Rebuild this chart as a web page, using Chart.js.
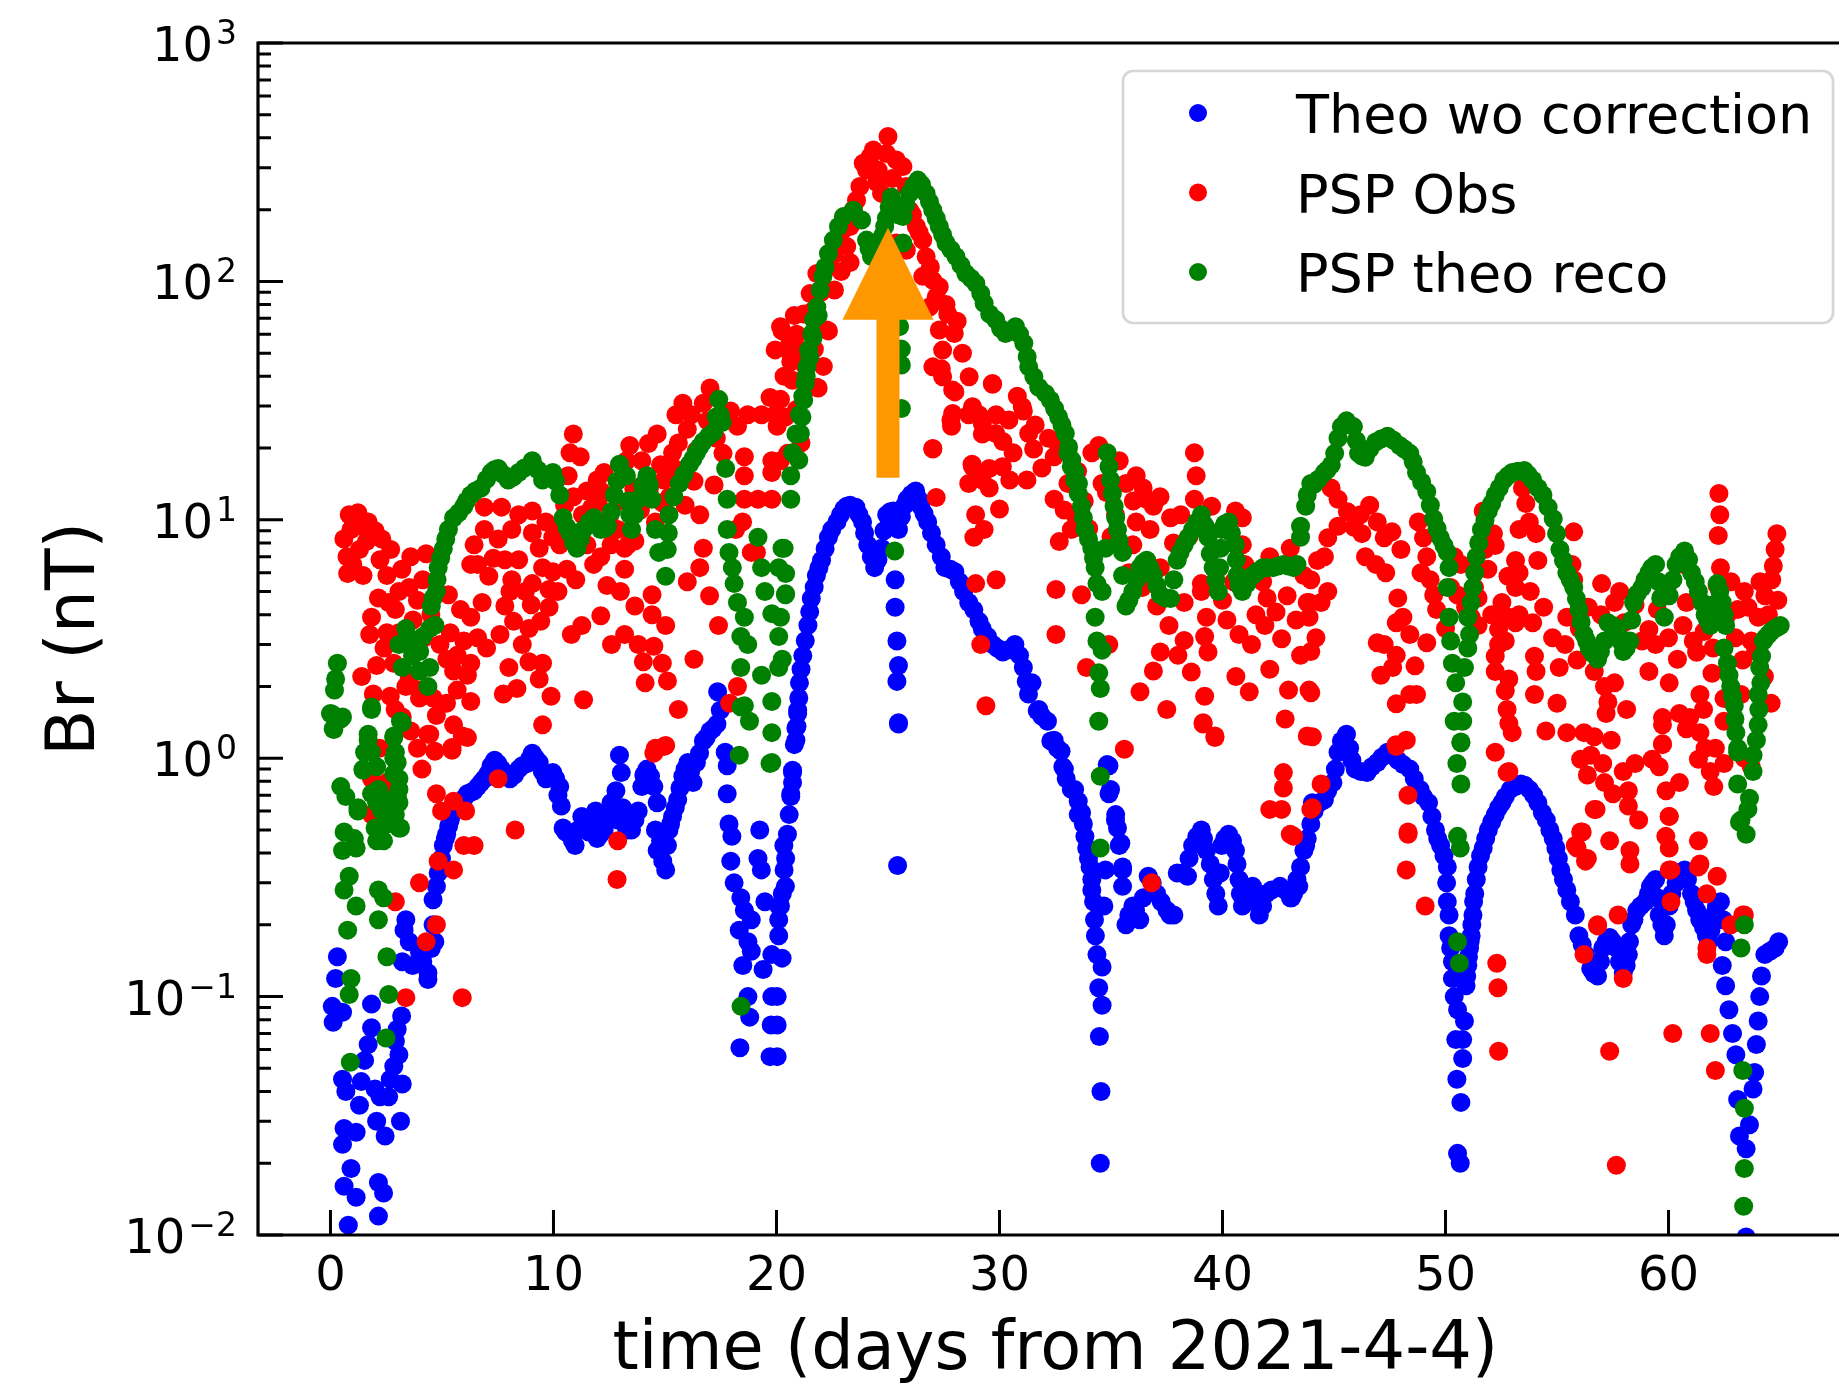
<!DOCTYPE html>
<html>
<head>
<meta charset="utf-8">
<title>Br (nT)</title>
<script src="https://cdn.jsdelivr.net/npm/chart.js@4.4.1/dist/chart.umd.min.js"></script>
<style>
html, body { margin: 0; padding: 0; background: #fff; overflow: hidden; }
#frameBox { width: 1839px; height: 1383px; overflow: hidden; }
</style>
</head>
<body>
<!-- the axes run a little past the right edge of the window, as in the original figure -->
<div id="frameBox"><canvas id="brChart" width="1862" height="1383"></canvas></div>
<script>
// axis ticks
const dayTicks = [0, 10, 20, 30, 40, 50, 60];
const brDecades = [0.01, 0.1, 1, 10, 100, 1000];
const brExponents = ['\u22122', '\u22121', '0', '1', '2', '3'];

const seriesLabels = ['Theo wo correction', 'PSP Obs', 'PSP theo reco'];
const seriesColors = ['#0000ff', '#ff0000', '#008000'];

// orange arrow (day, Br from / head base / tip)
const arrowDay = 25;
const arrowFrom = 15;
const arrowHead = 69;
const arrowTo = 168;

// [day, Br nT]
const theoWoCorrection = [
  [0.08,0.091],[0.12,0.078],[0.23,0.119],[0.31,0.147],[0.54,0.086],[0.54,0.045],[0.54,0.024],[0.61,0.028],[0.61,0.016],[0.69,0.040],
  [0.8,0.011],[0.92,0.019],[1.15,0.027],[1.15,0.0144],[1.3,0.035],[1.38,0.044],[1.53,0.054],[1.69,0.063],[1.84,0.093],[1.84,0.074],
  [2.0,0.041],[2.07,0.030],[2.15,0.0166],[2.15,0.012],[2.22,0.038],[2.38,0.015],[2.45,0.026],[2.61,0.038],[2.68,0.045],[2.84,0.051],
  [2.91,0.065],[2.99,0.073],[3.07,0.057],[3.14,0.030],[3.19,0.083],[3.22,0.043],[3.22,0.14],[3.3,0.19],[3.38,0.21],[3.53,0.17],
  [3.68,0.135],[3.99,0.154],[4.14,0.14],[4.37,0.118],[4.37,0.126],[4.52,0.159],[4.6,0.20],[4.68,0.17],[4.6,0.255],[4.75,0.29],
  [4.83,0.33],[4.9,0.36],[4.98,0.38],[5.06,0.43],[5.15,0.46],[5.21,0.48],[5.3,0.52],[5.37,0.55],[5.45,0.58],[5.52,0.60],
  [5.68,0.63],[5.83,0.65],[6.0,0.68],[6.14,0.71],[6.3,0.72],[6.44,0.73],[6.6,0.76],[6.75,0.79],[6.9,0.82],[7.06,0.86],
  [7.2,0.93],[7.36,0.98],[7.5,0.95],[7.67,0.90],[7.85,0.86],[8.05,0.82],[8.25,0.85],[8.44,0.90],[8.6,0.93],[8.82,0.95],
  [8.95,1.0],[9.05,1.05],[9.2,1.0],[9.36,0.96],[9.5,0.88],[9.66,0.82],[9.8,0.84],[9.97,0.87],[10.1,0.82],[10.2,0.70],
  [10.28,0.76],[10.35,0.63],[10.43,0.51],[10.55,0.49],[10.74,0.48],[10.85,0.45],[10.97,0.43],[11.1,0.50],[11.27,0.57],[11.4,0.53],
  [11.58,0.49],[11.75,0.55],[11.89,0.60],[11.96,0.46],[12.1,0.48],[12.27,0.50],[12.4,0.58],[12.58,0.65],[12.7,0.62],[12.8,0.73],
  [12.88,0.55],[12.96,1.03],[13.04,0.87],[13.1,0.62],[13.19,0.53],[13.3,0.50],[13.5,0.50],[13.65,0.55],[13.8,0.60],[13.96,0.76],
  [14.05,0.85],[14.19,0.90],[14.35,0.84],[14.5,0.76],[14.65,0.65],[14.57,0.50],[14.65,0.41],[14.8,0.45],[14.9,0.37],[15.03,0.34],
  [15.11,0.43],[15.18,0.50],[15.25,0.53],[15.34,0.57],[15.46,0.62],[15.57,0.67],[15.67,0.75],[15.8,0.84],[15.9,0.90],[16.03,0.96],
  [16.15,0.88],[16.26,0.79],[16.41,0.96],[16.55,1.05],[16.72,1.18],[16.85,1.22],[17.02,1.30],[17.15,1.33],[17.33,1.39],[17.36,1.9],
  [17.48,1.59],[17.7,1.06],[17.79,0.93],[17.79,0.71],[17.87,0.53],[18.0,0.47],[17.95,0.37],[18.1,0.30],[18.4,0.26],[18.56,0.23],
  [18.87,0.21],[18.33,0.19],[18.72,0.17],[18.49,0.135],[18.87,0.155],[19.4,0.13],[19.79,0.15],[20.1,0.18],[20.25,0.145],[19.25,0.50],
  [19.17,0.38],[19.32,0.34],[19.48,0.25],[20.1,0.24],[20.4,0.29],[20.33,0.43],[18.72,0.10],[18.8,0.082],[18.36,0.061],[19.79,0.10],
  [19.76,0.076],[19.71,0.056],[20.34,0.34],[20.18,0.24],[20.1,0.21],[20.26,0.27],[20.03,0.10],[20.03,0.076],[20.03,0.056],[20.41,0.38],
  [20.49,0.48],[20.57,0.58],[20.64,0.69],[20.72,0.79],[20.72,0.87],[20.8,1.14],[20.87,1.34],[20.95,1.59],[20.64,0.71],[20.72,0.89],
  [20.87,1.19],[20.92,1.36],[20.95,1.54],[21.0,1.79],[21.03,2.07],[21.1,2.36],[21.18,2.69],[21.29,3.11],[21.41,3.61],[21.49,4.11],
  [21.56,4.68],[21.69,5.22],[21.79,5.84],[21.9,6.28],[22.02,6.77],[22.18,7.56],[22.33,8.45],[22.48,9.1],[22.71,9.8],[22.87,10.5],
  [23.02,11.1],[23.15,11.4],[23.3,11.5],[23.56,11.3],[23.7,10.5],[23.86,9.8],[23.95,8.8],[24.09,7.85],[24.25,7.0],[24.4,6.3],
  [24.55,6.8],[24.71,7.6],[24.82,9.0],[24.94,10.5],[25.1,10.8],[25.24,10.9],[25.35,10.0],[25.47,9.1],[25.6,10.3],[25.75,11.5],
  [25.86,12.2],[26.05,12.8],[26.24,13.2],[26.35,12.3],[26.47,11.4],[26.62,10.6],[26.78,9.8],[26.95,8.8],[27.16,7.85],[27.39,7.0],
  [27.55,6.3],[27.8,6.2],[28.0,6.05],[28.2,5.5],[28.39,5.0],[28.62,4.5],[28.85,4.19],[29.08,3.75],[29.23,3.48],[29.46,3.24],
  [29.7,3.0],[29.9,2.9],[30.15,2.79],[30.4,2.85],[30.69,3.0],[30.9,2.7],[31.07,2.4],[31.2,2.1],[31.3,1.86],[31.46,2.07],
  [31.69,1.58],[31.76,1.6],[31.9,1.5],[32.15,1.43],[32.3,1.18],[32.45,1.19],[32.6,1.1],[32.76,1.07],[32.84,0.92],[32.91,0.90],
  [32.99,0.82],[33.22,0.74],[33.37,0.74],[33.53,0.66],[33.53,0.58],[33.68,0.59],[33.76,0.53],[33.83,0.47],[33.91,0.42],[33.99,0.38],
  [34.06,0.35],[34.14,0.31],[34.14,0.28],[34.22,0.25],[34.26,0.21],[34.3,0.18],[34.37,0.15],[34.6,0.133],[34.45,0.109],[34.6,0.092],
  [34.48,0.068],[34.55,0.040],[34.52,0.020],[34.68,0.24],[34.75,0.34],[34.83,0.94],[34.91,0.71],[34.91,0.93],[34.98,0.74],[35.2,0.55],
  [35.21,0.58],[35.29,0.51],[35.37,0.43],[35.44,0.44],[35.52,0.35],[35.52,0.34],[35.52,0.29],[35.67,0.20],[35.8,0.22],[35.98,0.24],
  [36.1,0.23],[36.29,0.21],[36.45,0.26],[36.67,0.32],[36.85,0.30],[37.05,0.27],[37.25,0.25],[37.51,0.23],[37.65,0.22],[37.82,0.22],
  [37.97,0.33],[38.2,0.33],[38.43,0.32],[38.5,0.38],[38.66,0.43],[38.85,0.47],[39.05,0.50],[39.15,0.46],[39.28,0.41],[39.45,0.36],
  [39.59,0.31],[39.7,0.27],[39.81,0.24],[39.9,0.33],[39.97,0.43],[40.1,0.46],[40.27,0.48],[40.45,0.45],[40.58,0.41],[40.65,0.36],
  [40.74,0.31],[40.8,0.27],[40.89,0.24],[41.1,0.26],[41.35,0.29],[41.5,0.25],[41.65,0.22],[41.8,0.24],[41.96,0.27],[42.2,0.28],
  [42.58,0.29],[42.8,0.28],[43.04,0.26],[43.1,0.26],[43.19,0.27],[43.34,0.31],[43.42,0.29],[43.5,0.35],[43.65,0.41],[43.73,0.43],
  [43.8,0.46],[43.96,0.53],[44.03,0.65],[44.11,0.60],[44.34,0.65],[44.57,0.67],[44.72,0.73],[44.95,0.79],[45.06,0.90],[45.18,1.06],
  [45.33,1.18],[45.56,1.26],[45.7,1.1],[45.8,0.98],[45.95,0.90],[46.2,0.88],[46.48,0.87],[46.7,0.92],[46.94,0.96],[47.15,1.01],
  [47.4,1.06],[47.6,1.03],[47.86,0.98],[48.1,0.94],[48.4,0.90],[48.6,0.82],[48.86,0.74],[49.01,0.69],[49.24,0.65],[49.39,0.57],
  [49.55,0.50],[49.65,0.46],[49.78,0.43],[49.93,0.39],[50.08,0.35],[50.05,0.30],[50.08,0.25],[50.16,0.22],[50.16,0.18],[50.23,0.16],
  [50.31,0.14],[50.31,0.119],[50.39,0.100],[50.54,0.088],[50.85,0.079],[50.46,0.066],[50.77,0.066],[50.77,0.055],[50.51,0.045],[50.69,0.036],
  [50.54,0.022],[50.66,0.020],[50.92,0.111],[50.95,0.122],[51.0,0.135],[51.03,0.147],[51.08,0.16],[51.11,0.171],[51.15,0.18],[51.18,0.20],
  [51.23,0.22],[51.26,0.25],[51.31,0.27],[51.38,0.31],[51.46,0.35],[51.57,0.39],[51.69,0.42],[51.8,0.46],[51.92,0.50],[52.07,0.54],
  [52.23,0.58],[52.38,0.62],[52.53,0.65],[52.68,0.69],[52.91,0.74],[53.14,0.76],[53.37,0.78],[53.55,0.77],[53.76,0.74],[53.95,0.70],
  [54.14,0.65],[54.34,0.59],[54.52,0.55],[54.68,0.50],[54.83,0.46],[54.95,0.42],[55.06,0.38],[55.17,0.34],[55.29,0.31],[55.44,0.28],
  [55.6,0.25],[55.82,0.22],[55.98,0.18],[56.13,0.165],[56.28,0.15],[56.51,0.131],[56.65,0.125],[56.82,0.122],[56.95,0.14],[57.05,0.16],
  [57.2,0.17],[57.36,0.177],[57.5,0.17],[57.66,0.16],[57.8,0.14],[57.97,0.126],[58.1,0.135],[58.2,0.15],[58.25,0.17],[58.35,0.20],
  [58.45,0.21],[58.58,0.23],[58.75,0.24],[58.96,0.25],[59.1,0.27],[59.19,0.29],[59.3,0.30],[59.42,0.31],[59.5,0.26],[59.58,0.22],
  [59.7,0.20],[59.81,0.18],[59.9,0.20],[60.03,0.24],[60.15,0.27],[60.34,0.30],[60.5,0.32],[60.72,0.34],[60.85,0.31],[61.03,0.27],
  [61.15,0.25],[61.26,0.23],[61.4,0.21],[61.57,0.195],[61.7,0.18],[61.8,0.17],[61.9,0.19],[62.03,0.22],[62.15,0.24],[62.33,0.25],
  [62.45,0.21],[62.56,0.17],[62.41,0.135],[62.56,0.111],[62.71,0.088],[62.87,0.070],[63.02,0.057],[63.1,0.037],[63.18,0.026],[63.48,0.023],
  [63.48,0.0098],[63.63,0.029],[63.79,0.041],[63.86,0.048],[63.94,0.063],[64.02,0.079],[64.09,0.100],[64.17,0.122],[64.32,0.15],[64.55,0.155],
  [64.78,0.16],[64.94,0.17],
  [25.32,5.6],[25.32,4.3],[25.4,3.1],[25.47,2.45],[25.4,2.1],[25.47,1.41],[25.47,1.39],[25.43,0.355]
];

const pspObs = [
  [0.84,10.5],[1.23,10.7],[0.92,9.1],[1.38,9.4],[1.69,9.8],[1.61,8.1],[0.74,7.0],[0.77,5.95],[1.46,5.84],[2.3,8.3],
  [2.22,6.8],[2.53,5.84],[3.6,7.0],[4.29,7.2],[4.14,5.6],[3.07,5.0],[3.53,5.2],[2.15,4.7],[1.84,3.9],[1.76,3.3],
  [2.61,4.5],[2.53,3.36],[2.91,4.2],[2.07,2.45],[2.84,2.5],[1.92,1.86],[2.68,1.82],[3.38,2.0],[3.99,1.79],[4.6,1.79],
  [3.22,1.49],[4.37,1.26],[4.75,1.51],[5.52,1.38],[5.91,1.24],[4.68,1.07],[5.45,1.11],[5.29,4.85],[5.83,4.2],[6.29,3.9],
  [5.37,3.36],[5.98,3.1],[5.68,2.7],[6.29,2.5],[5.52,2.32],[6.14,2.23],[5.68,1.93],[6.29,1.73],[4.91,3.0],[5.22,2.6],
  [3.07,3.36],[3.53,2.15],[4.06,1.93],[6.44,7.85],[6.29,6.5],[6.6,6.5],[7.52,8.3],[7.82,6.8],[8.44,6.8],[8.13,5.6],
  [8.05,5.0],[7.82,4.35],[8.21,3.75],[8.9,3.5],[9.43,3.75],[8.74,5.0],[9.05,5.4],[9.51,6.3],[9.97,6.05],[9.36,7.6],
  [9.05,10.9],[8.44,10.5],[7.67,11.3],[6.9,11.3],[6.9,9.1],[8.13,9.1],[9.05,8.8],[9.97,8.45],[8.9,2.54],[9.51,2.5],
  [9.36,2.15],[7.75,1.86],[8.36,1.96],[9.89,1.82],[9.51,1.38],[11.27,3.6],[12.12,3.96],[11.35,1.76],[13.19,3.3],[13.65,4.35],
  [14.42,4.0],[15.03,3.6],[14.42,4.85],[14.5,2.95],[14.03,2.54],[14.88,2.5],[14.11,2.07],[15.11,2.11],[13.19,6.2],[14.57,1.1],
  [15.03,1.13],[18.25,2.0],[16.56,10.5],[16.72,7.6],[16.56,6.3],[18.17,9.1],[18.48,9.8],[19.1,7.3],
  [0.6,8.3],[1.0,6.5],[1.3,7.5],[2.0,9.0],[2.7,7.5],[3.2,6.2],[3.9,4.6],[4.5,4.0],[4.2,3.2],[3.7,3.8],
  [2.4,2.9],[1.4,2.2],[2.9,1.6],[3.6,1.3],[3.9,1.1],[4.1,0.9],[2.2,1.1],[5.2,1.7],[6.6,3.2],[6.8,4.5],
  [7.1,5.8],[7.3,6.9],[7.0,2.9],[7.6,3.3],[8.0,2.4],[8.6,3.0],[9.0,4.4],[9.8,5.1],
  [10.89,22.9],[10.74,19.1],[11.2,18.4],[10.66,15.3],[11.5,13.2],[11.96,14.7],[12.27,15.8],[12.12,13.2],[13.42,20.5],[13.96,17.7],
  [13.27,17.7],[14.26,20.9],[14.65,22.9],[15.34,19.1],[14.95,14.7],[14.88,11.8],[15.8,30.8],[15.49,27.6],[16.18,27.6],[17.02,35.7],
  [16.72,30.8],[17.94,28.6],[18.71,27.6],[19.33,27.6],[19.94,27.6],[20.25,62],[19.94,51.6],[20.71,38.5],[19.71,32.6],[18.25,24.7],
  [18.56,18.4],[18.56,15.3],[19.79,17.7],[19.79,15.8],[18.56,12.2],[19.17,12.2],[19.79,12.2],[18.87,7.3],[13.34,7.85],[13.65,8.15],
  [12.58,7.85],[12.12,7.0],[12.88,9.1],[13.19,7.6],[11.5,7.85],[10.28,7.85],[10.12,9.4],[9.66,9.8],[14.57,9.8],[15.42,16.4],
  [10.5,11.5],[10.9,12.5],[11.3,10.5],[11.7,11.2],[12.0,11.8],[12.5,10.2],[12.9,12.0],[13.6,13.5],[13.9,11.0],[14.3,13.5],
  [14.8,17.0],[15.2,12.5],[15.6,21],[16.0,24],[16.4,19.5],[16.9,26],[17.3,22],[17.6,19],[17.2,14],[16.3,14.5],
  [15.9,11.5],[11.0,5.6],[11.8,6.5],[12.4,5.3],[13.0,5.0],[10.6,6.2],[10.2,5.0],[9.8,4.3],[10.8,3.3],[12.6,3.0],
  [13.8,3.0],[16.0,5.5],[17.0,4.8],[17.4,3.6],[16.3,2.6],[15.6,1.6],[17.9,1.7],
  [1.84,0.82],[2.91,0.25],[3.38,0.099],[3.99,0.30],[4.29,0.17],[4.75,0.20],[4.83,0.37],[5.52,0.34],[5.91,0.099],[4.75,0.71],
  [5.52,0.66],[4.98,0.60],[6.06,0.60],[5.98,0.43],[6.44,0.43],[7.52,0.82],[8.28,0.50],[12.88,0.45],[12.85,0.31],[14.5,1.05],
  [14.95,1.12],[4.45,1.26],[5.45,1.08],[6.14,1.22],[2.53,0.79],[1.84,0.58],[2.46,0.62],
  [25.0,405],[24.93,344],[24.19,333],[24.04,293],[24.56,293],[25.67,303],[23.74,250],[24.71,234],[23.59,219],[25.82,250],
  [25.97,199],[26.27,170],[26.56,149],[26.71,127],[26.56,105],[27.01,101],[27.16,86],[26.86,78],[27.68,73],[27.3,62.5],
  [27.97,60.5],[27.45,51.5],[28.34,50],[27.01,43.8],[27.45,39.8],[27.9,35],[28.64,39.8],[29.68,37.3],[27.9,27.9],[28.79,29.8],
  [29.23,25.3],[29.83,23],[30.42,26.2],[31.02,29.8],[31.31,23],[28.79,16.7],[29.23,14.7],[30.13,16.7],[27.01,19.9],[27.82,26.2],
  [32.65,20.2],[23.15,140],[22.33,115],[21.81,108],[21.51,89],[22.26,62.5],[21.81,36],[21.22,73],[21.07,51.5],[23.3,170],
  [23.89,313],[24.34,356],[25.37,323],[25.37,145],[25.82,135],[23.45,200],[22.9,160],[22.6,130],[24.5,260],[25.2,270],
  [26.1,190],[26.4,160],[26.9,115],[27.3,95],[27.6,80],[28.1,68],[22.0,90],[21.6,75],[20.9,60],[20.6,55],
  [20.4,27],[20.9,29],[21.3,44],[21.7,52],[22.1,44],[22.6,92],[22.9,110],[23.3,120],[20.5,19],[21.1,21],
  [20.18,64.6],[20.49,51.6],[20.8,72],[20.34,40],[20.64,46],[20.18,32],[20.03,24.7],[21.87,35.7],[22.33,62],[20.18,17.7],
  [27.01,19.8],[27.16,12.4],[27.39,43],[27.85,24.7],[28.0,34.4],[28.62,27.6],[29.08,27.6],[29.23,22.9],[29.69,37],[29.85,27.6],
  [30.15,21.3],[30.61,19.1],[31.07,28.6],[31.53,19.8],[28.77,17.1],[29.54,16.4],[28.62,14.2],[29.54,13.6],[30.46,14.7],[31.23,14.7],
  [28.93,10.5],[29.31,9.1],[28.85,8.45],[30.0,11.1],[28.93,5.4],[29.85,5.6],[29.16,3.0],[29.39,1.66],[32.53,5.1],[32.53,3.3],
  [32.68,8.1],[33.68,4.85],[32.45,12.2],[32.45,18.4],[33.07,14.2],[33.37,10.5],[33.22,9.1],[34.14,19.1],[34.45,20.5],[34.6,14.2],
  [35.37,17.7],[35.67,14.2],[36.13,15.3],[36.44,13.6],[36.59,12.2],[36.13,9.8],[36.75,9.1],[36.9,11.4],[37.67,10.2],[38.13,10.5],
  [38.74,19.1],[38.82,15.3],[38.74,12.2],[39.51,11.4],[40.58,10.9],[40.89,7.85],[42.12,7.0],[43.04,7.6],[43.65,5.84],[43.88,4.5],
  [35.98,7.85],[37.21,6.3],[39.05,5.4],[38.28,4.5],[39.05,5.0],[37.05,4.35],[39.28,3.9],[39.35,2.79],[39.2,3.24],[38.28,3.12],
  [37.21,2.79],[36.9,2.32],[40.74,3.3],[40.89,10.2],[42.65,3.17],[42.12,2.36],[42.96,1.93],[42.81,1.46],[43.88,1.93],[43.8,1.24],
  [39.2,1.82],[39.13,1.41],[39.66,1.24],[42.73,0.87],[42.73,0.75],[42.12,0.61],[42.65,0.61],[43.04,0.48],[35.6,1.09],[36.82,0.30],
  [39.13,1.39],[39.66,1.22],[43.96,0.61],[30.8,33],[31.6,25],[32.2,22],[33.5,16],[33.8,12],[34.8,13],[35.2,10.5],
  [36.0,12],[37.2,12.5],[37.8,8],[38.5,8.5],[41.0,6.5],[41.5,4.0],[42.0,4.7],[40.2,3.8],[41.8,5.5],
  [31.9,16.5],[32.9,11.0],[34.0,9.2],[35.0,8.5],[35.8,6.0],[36.4,5.2],[37.6,3.6],[38.0,2.7],[38.6,2.3],[40.0,4.6],
  [40.5,5.5],[41.3,3.0],[41.9,3.6],[42.4,4.1],[42.9,4.8],[43.3,3.8],[43.5,2.7],[41.2,1.9],[40.6,2.2],[37.5,1.6],
  [36.3,1.9],[34.9,3.0],[33.9,2.4],
  [44.87,13.6],[45.18,12.2],[46.18,10.5],[46.94,9.8],[45.18,9.4],[46.25,8.75],[47.25,8.4],[44.72,8.4],[46.41,7.0],[46.87,6.5],
  [47.32,6.0],[44.57,7.0],[44.26,6.75],[43.96,5.6],[44.72,5.0],[43.8,4.5],[44.42,4.5],[43.88,3.9],[44.19,3.2],[43.96,2.8],
  [43.96,1.88],[44.03,1.23],[47.86,4.7],[47.79,3.7],[48.09,3.9],[48.4,3.3],[46.94,3.05],[47.25,3.0],[47.79,2.7],[47.63,2.4],
  [47.1,2.23],[48.63,2.44],[49.16,3.05],[47.79,1.69],[48.4,1.85],[48.7,1.85],[47.79,1.12],[48.24,1.19],[48.32,0.70],[48.32,0.48],
  [48.24,0.34],[49.09,0.24],[48.78,9.8],[49.01,8.4],[49.16,7.0],[49.31,5.6],[49.47,4.84],[50.39,7.0],[50.69,6.5],[50.23,5.2],
  [50.54,4.84],[51.3,5.2],[51.46,4.7],[51.15,3.9],[51.46,3.6],[51.69,10.9],[52.15,8.75],[52.23,7.8],[51.77,7.5],[52.53,4.5],
  [52.38,4.0],[52.84,3.9],[52.07,4.0],[52.38,3.47],[53.14,3.7],[53.3,4.0],[52.68,3.1],[52.38,3.0],[52.23,2.68],[52.23,2.31],
  [52.84,2.15],[52.68,1.92],[52.76,1.6],[52.84,1.4],[52.99,1.28],[52.23,1.06],[52.84,0.88],[53.45,13.6],[53.6,11.7],[53.3,9.1],
  [53.14,6.75],[53.3,6.0],[53.14,5.2],[53.76,9.8],[54.06,8.75],[54.14,6.75],[53.91,3.7],[53.99,2.68],[54.06,2.31],[53.99,1.85],
  [51.77,10.9],[55.75,8.9],[55.67,6.5],[55.75,5.6],[55.44,3.9],[55.36,3.0],[55.9,2.58],[56.67,2.31],[56.97,4.0],[57.58,4.5],
  [57.81,5.0],[57.13,2.0],[57.28,1.72],[57.2,1.54],[58.12,1.6],[57.58,2.07],[55.44,1.28],[56.21,1.28],[56.67,1.23],[57.43,1.19],
  [56.06,0.99],[56.51,1.03],[57.05,0.95],[56.36,0.85],[57.13,0.79],[57.51,0.71],[56.75,0.61],[57.97,0.88],[58.5,0.95],[58.2,0.73],
  [58.2,0.63],[58.66,0.55],[56.06,0.49],[55.9,0.42],[56.36,0.38],[57.36,0.45],[58.27,0.41],[58.27,0.36],[56.82,0.20],[57.74,0.22],
  [59.27,0.99],[59.73,1.15],[59.58,0.92],[59.89,0.73],[60.49,0.79],[60.03,0.57],[59.88,0.47],[60.03,0.42],[60.03,0.34],[61.34,0.45],
  [61.41,0.36],[62.18,0.32],[61.72,0.27],[60.11,0.25],[59.73,1.38],[59.73,1.48],[60.49,1.54],[60.03,2.07],[59.42,3.0],[59.12,2.31],
  [59.12,3.47],[58.81,3.1],[58.96,5.6],[60.65,6.5],[60.8,4.5],[60.65,3.6],[61.11,3.1],[61.26,2.78],[61.41,1.85],[61.57,1.6],
  [60.95,1.48],[60.8,1.33],[61.41,1.28],[61.95,2.27],[62.26,12.9],[62.3,10.5],[62.23,8.6],[62.33,6.3],[62.18,5.3],[62.64,4.0],
  [63.1,4.2],[63.56,4.3],[64.02,3.9],[64.48,4.0],[64.32,4.8],[64.63,5.6],[64.7,6.4],[64.78,7.5],[64.86,8.75],[62.49,1.78],
  [63.25,1.85],[63.33,2.58],[63.71,3.1],[62.49,1.43],[61.64,1.10],[62.1,1.10],[61.87,0.88],[62.49,0.95],[62.03,0.76],[61.34,0.99],
  [62.79,0.20],[63.4,0.22],[61.72,0.16],[63.4,1.0],[63.71,0.92],[44.42,0.78],[44.03,0.62],[43.19,0.47],[47.78,1.14],[48.32,0.49],
  [52.3,0.138],[52.35,0.109],[52.38,0.059],[52.76,0.87],[56.21,0.15],[56.82,0.198],[57.97,0.119],[57.36,0.059],[57.66,0.0196],[60.11,0.34],
  [60.19,0.070],[61.34,0.35],[61.72,0.15],[61.87,0.070],[62.1,0.049],[63.33,0.22],[59.73,1.14],[56.13,0.49],[55.82,0.43],[56.28,0.37],
  [56.67,0.61],[60.03,0.57],
  [45.6,10.8],[45.9,9.3],[46.6,11.5],[47.6,8.9],[48.0,7.5],[48.9,6.0],[49.6,4.2],[50.0,3.5],[50.9,4.3],[51.9,6.2],
  [52.8,5.8],[53.8,5.0],[54.4,4.3],[54.8,3.2],[55.1,2.4],[55.0,1.7],[54.5,1.3],[56.0,3.5],[56.4,4.3],[57.0,5.4],
  [58.0,3.7],[58.5,4.4],[59.5,4.2],[60.0,3.2],[60.4,2.6],[61.6,3.4],[62.0,2.9],[63.0,3.2],[63.9,2.8],[64.3,2.2],
  [64.6,1.7],[64.9,4.6],[64.1,5.5],[63.4,5.0],[62.8,5.5]
];

const pspTheoReco = [
  [0.31,2.5],[0.23,2.15],[0.18,1.93],[0.0,1.54],[0.12,1.33],[0.54,1.49],[0.08,1.53],[0.46,1.46],[0.15,1.32],[0.46,0.76],
  [0.69,0.69],[1.23,0.60],[0.61,0.49],[1.07,0.46],[0.54,0.41],[1.15,0.42],[0.84,0.32],[0.61,0.28],[1.15,0.24],[0.77,0.19],
  [0.92,0.119],[0.84,0.102],[0.89,0.053],[2.15,0.21],[2.53,0.147],[2.61,0.102],[2.49,0.067],[2.15,0.28],[2.38,0.26],[2.07,0.45],
  [2.38,0.45],[2.0,0.51],[3.07,0.51],[3.22,1.41],[1.84,1.6],[1.69,1.19],[1.46,0.89],[1.23,0.62],[2.15,0.74],[2.84,1.24],
  [2.84,1.0],[3.07,0.82],[3.0,0.69],[3.14,1.43],[2.3,0.61],[2.15,0.46],[1.84,1.64],[1.69,1.26],[1.53,1.06],[1.46,0.90],
  [1.84,1.06],[2.07,0.92],[1.84,0.71],[2.07,0.65],[2.3,0.60],[2.84,1.22],[2.91,1.06],[2.99,0.96],[2.84,0.86],[3.07,0.74],
  [2.76,0.67],[3.07,0.65],[2.91,0.58],[3.14,0.51],[2.53,0.53],
  [3.38,3.5],[4.14,3.24],[4.45,3.5],[3.68,2.69],[3.22,2.4],[3.99,2.32],[4.45,2.4],[4.37,2.0],[3.07,3.0],[4.68,3.61],
  [3.8,3.0],[4.0,2.8],[3.5,3.2],
  [4.52,4.34],[4.6,4.7],[4.75,5.03],[4.78,5.6],[4.83,6.29],[4.94,6.9],[5.06,7.56],[5.17,8.3],[5.29,9.1],[5.52,10.2],
  [5.75,10.7],[5.98,11.4],[6.1,12],[6.29,12.7],[6.5,13.2],[6.75,13.6],[7.0,14.8],[7.21,15.8],[7.35,16.2],[7.52,16.4],
  [7.75,15.5],[7.97,14.7],[8.2,15.1],[8.44,15.8],[8.7,16.5],[9.05,17.7],[9.3,16.2],[9.51,14.7],[9.75,15.0],[9.97,15.8],
  [10.1,14.5],[10.28,12.7],[10.43,10.2],[10.6,9.3],[10.74,8.8],[10.9,8.0],[11.05,7.6],[11.2,8.3],[11.35,9.1],[11.6,9.8],
  [11.81,10.2],[11.95,9.6],[12.12,9.1],[12.3,9.2],[12.42,9.4],[12.6,10.8],[12.73,12.7],[12.85,14.5],[12.96,17.1],[13.27,15.3],
  [13.35,12.0],[13.42,10.5],[13.5,9.1],[13.65,10.5],[13.8,12.2],[14.0,14.0],[14.19,15.3],[14.3,14.0],[14.42,12.2],[14.57,9.1],
  [14.72,7.3],[15.03,5.8],[15.1,7.5],[15.15,8.8],[15.18,10.5],[15.4,12.5],[15.64,14.2],[15.85,15.5],[16.1,17.1],[16.25,18.0],
  [16.41,19.1],[16.55,20.2],[16.72,21.3],[16.95,22.4],[17.18,23.3],[17.3,27],[17.41,32],[17.48,27.6],[17.56,25.6],
  [17.72,16.4],[17.79,12.2],[17.79,9.1],[17.87,7.3],[18.02,6.3],[18.1,5.4],[18.25,4.5],[18.56,3.9],[18.4,3.24],[18.71,3.0],
  [18.4,2.4],[18.56,1.66],[18.79,1.43],[18.33,1.03],[19.17,8.45],[19.33,6.3],[19.48,5.0],[19.79,4.04],[20.1,3.24],[20.1,2.4],
  [19.79,1.73],[19.79,1.28],[19.71,0.95],[19.33,2.23],[20.25,7.6],[20.4,4.85],[20.1,6.3],[18.41,0.091],[18.41,1.64],[19.79,0.96],
  [20.34,7.6],[20.41,5.95],[20.41,4.9],[20.18,3.9],[20.26,2.6],
  [20.64,12.2],[20.64,15.3],[20.72,19.1],[20.87,22.9],[21.0,17.8],[21.03,27.6],[21.07,23],[21.14,27],[21.18,33],[21.22,31.8],
  [21.29,37.3],[21.33,40],[21.37,43.8],[21.44,51.5],[21.49,48],[21.59,60.5],[21.64,58],[21.66,69],[21.81,78],[21.87,72],
  [21.96,92],[22.08,105],[22.18,115],[22.33,131],[22.55,149],[22.78,170],[23.0,187],[23.44,199],[23.82,181],[24.04,149],
  [24.15,137],[24.26,127],[24.45,132],[24.63,140],[24.75,155],[24.85,170],[24.93,184],[25.05,205],[25.15,226],[25.25,210],
  [25.37,193],[25.5,190],[25.67,187],[25.8,210],[25.97,234],[26.15,250],[26.34,266],[26.5,255],[26.71,234],
  [26.86,216],[27.01,199],[27.16,184],[27.3,170],[27.45,157],[27.6,145],[27.82,136],[28.05,127],[28.27,117],[28.49,108],
  [28.72,103],[28.94,98],[29.16,89],[29.31,81],[29.56,73],[29.83,69],[30.05,63.5],[30.27,60.5],[30.5,62],[30.72,64.6],
  [30.9,60],[31.09,55],[31.24,48.3],[31.31,43.8],[31.54,39.8],[31.76,36],[32.06,33.9],[32.28,31.8],[32.47,29.3],[32.65,27],
  [32.8,25],[32.95,23],[33.07,19.1],[33.1,20.2],[33.22,16.7],[33.24,17.8],[33.37,14.7],[33.39,15.9],[33.53,12.9],[33.54,14.2],
  [33.68,11.4],[33.76,10.2],[33.83,9.1],[33.99,8.3],[34.14,7.6],[34.22,6.9],[34.29,6.3],[34.37,5.4],[34.6,5.0],[34.29,3.9],
  [34.37,3.1],[34.6,2.84],[34.45,2.28],[34.52,1.96],[34.45,1.43],[34.52,0.84],[34.52,0.42],
  [25.52,64.6],[25.6,52],[25.6,44.6],[25.6,29.3],[25.67,145],[25.3,7.4],
  [34.83,19.1],[34.91,16.7],[34.98,14.7],[35.06,12.9],[35.14,11.4],[35.21,10.2],[35.29,9.1],[35.37,8.15],[35.52,7.3],[34.75,7.6],
  [35.52,5.84],[35.67,4.35],[35.8,4.6],[35.98,5.0],[36.15,5.6],[36.29,6.3],[36.45,6.6],[36.6,6.77],[36.75,6.3],[36.9,5.84],
  [37.05,5.3],[37.21,4.85],[37.45,4.7],[37.67,4.68],[37.82,5.6],[37.97,6.77],[38.1,7.3],[38.28,7.85],[38.45,8.4],[38.66,9.1],
  [38.85,9.8],[39.05,10.5],[39.2,9.5],[39.35,8.45],[39.45,7.2],[39.58,6.3],[39.7,5.6],[39.81,5.0],[39.87,6.3],[39.92,7.6],
  [39.97,9.1],[40.1,9.6],[40.27,9.8],[40.4,8.8],[40.58,7.85],[40.62,6.8],[40.66,5.84],[40.75,5.3],[40.89,5.0],[41.1,5.4],
  [41.35,5.84],[41.6,6.1],[41.81,6.3],[42.0,6.3],[42.27,6.3],[42.5,6.4],[42.73,6.5],[42.95,6.4],[43.19,6.3],[43.34,6.5],
  [43.5,8.45],[43.5,9.4],[43.73,11.4],[43.8,12.7],[43.96,14.2],[44.11,14.1],[44.3,14.8],
  [44.57,15.8],[44.7,16.2],[44.88,17],[45.03,19],[45.18,22],[45.33,24.6],[45.56,26],[45.87,24.6],[46.0,21.5],[46.1,19],
  [46.25,18.5],[46.4,18.3],[46.6,19.8],[46.87,21.2],[47.1,21.8],[47.4,22.4],[47.65,21.6],[47.94,20.5],[48.15,19.8],[48.4,19],
  [48.55,17.5],[48.7,15.8],[48.93,14.4],[49.16,13.1],[49.32,11.5],[49.47,10.1],[49.62,9.2],[49.77,8.4],[49.93,7.8],[50.08,7.3],
  [50.16,6.3],[50.08,5.2],[50.16,3.9],[50.23,3.1],[50.31,2.5],[50.46,2.07],[50.85,2.4],[50.77,1.72],[50.39,1.43],[50.77,1.43],
  [50.69,1.17],[50.51,0.95],[50.69,0.78],[50.54,0.17],[50.62,0.138],[50.54,0.47],[50.66,0.42],[50.69,1.16],[51.0,2.9],[51.08,3.3],
  [51.0,3.9],[51.15,4.5],[51.23,5.2],[51.31,6.0],[51.38,7.0],[51.49,8.0],[51.61,9.1],[51.77,9.95],[51.92,10.9],[52.07,11.7],
  [52.23,12.7],[52.41,13.6],[52.61,14.7],[52.8,15.3],[52.99,15.8],[53.25,16.0],[53.53,16.1],[53.7,15.5],[53.91,14.7],[54.15,13.6],
  [54.37,12.7],[54.6,11.3],[54.83,10.1],[54.98,8.75],[55.13,7.5],[55.29,6.75],[55.44,6.0],[55.59,5.6],[55.75,5.2],[55.87,4.67],
  [55.98,4.2],[56.08,3.73],[56.21,3.3],[56.33,3.1],[56.44,2.9],[56.6,2.75],[56.82,2.6],[56.95,2.8],[57.13,3.1],[57.28,3.7],
  [57.5,3.6],[57.74,3.5],[57.85,3.1],[57.97,2.8],[58.1,2.9],[58.27,3.1],[58.35,3.8],[58.43,4.5],[58.6,4.9],[58.81,5.2],
  [58.95,5.6],[59.12,6.0],[59.25,6.3],[59.42,6.5],[59.55,5.5],[59.65,4.7],[59.81,3.9],[60.03,4.8],[60.2,5.6],[60.34,6.5],
  [60.5,7.0],[60.72,7.4],[60.9,6.8],[61.03,6.0],[61.2,5.5],[61.34,5.0],[61.5,4.5],[61.64,4.0],[61.75,3.8],[61.87,3.6],
  [62.0,4.4],[62.18,5.4],[62.3,5.0],[62.41,4.5],[62.5,4.0],[62.56,3.6],[62.49,2.9],[62.64,2.5],[62.71,2.23],[62.79,2.0],
  [62.87,1.82],[62.95,1.66],[62.98,1.46],[63.02,1.28],[63.1,1.10],[63.1,0.78],[63.25,0.55],[63.48,0.48],[63.79,1.03],[63.79,0.88],
  [63.63,0.68],[63.56,0.61],[63.94,1.19],[64.02,1.38],[64.05,1.6],[64.02,1.85],[64.14,2.07],[64.09,2.4],[64.17,2.68],[64.25,3.1],
  [64.35,3.2],[64.48,3.3],[64.6,3.4],[64.78,3.5],[64.9,3.55],[65.01,3.6],
  [63.4,0.20],[63.25,0.16],[63.33,0.049],[63.4,0.034],[63.4,0.019],[63.37,0.0132],[63.18,0.54],[63.1,1.06]
];

const FONT = 'DejaVu Sans';
const toPoints = arr => arr.map(p => ({ x: p[0], y: p[1] }));

const frame = {
  id: 'frame',
  afterDatasetsDraw(chart) {
    const { ctx, chartArea: a, scales: { x, y } } = chart;
    ctx.save();

    // orange arrow
    const ax = x.getPixelForValue(arrowDay);
    const yb = y.getPixelForValue(arrowFrom);
    const yh = y.getPixelForValue(arrowHead);
    const yt = y.getPixelForValue(arrowTo);
    ctx.fillStyle = '#ff9800';
    ctx.beginPath();
    ctx.moveTo(ax - 11.5, yb);
    ctx.lineTo(ax - 11.5, yh);
    ctx.lineTo(ax - 45.5, yh);
    ctx.lineTo(ax, yt);
    ctx.lineTo(ax + 45.5, yh);
    ctx.lineTo(ax + 11.5, yh);
    ctx.lineTo(ax + 11.5, yb);
    ctx.closePath();
    ctx.fill();

    // spines
    ctx.strokeStyle = '#000';
    ctx.lineWidth = 3.2;
    ctx.lineCap = 'square';
    ctx.beginPath();
    ctx.moveTo(a.right, a.top);
    ctx.lineTo(a.left, a.top);
    ctx.lineTo(a.left, a.bottom);
    ctx.lineTo(a.right, a.bottom);
    ctx.stroke();

    // inward ticks
    ctx.lineWidth = 3;
    ctx.lineCap = 'butt';
    ctx.beginPath();
    dayTicks.forEach(d => {
      const px = x.getPixelForValue(d);
      ctx.moveTo(px, a.bottom);
      ctx.lineTo(px, a.bottom - 25);
    });
    brDecades.forEach((v, i) => {
      const py = y.getPixelForValue(v);
      ctx.moveTo(a.left, py);
      ctx.lineTo(a.left + 25, py);
      if (i < brDecades.length - 1) {
        for (let m = 2; m <= 9; m++) {
          const pm = y.getPixelForValue(v * m);
          ctx.moveTo(a.left, pm);
          ctx.lineTo(a.left + 13, pm);
        }
      }
    });
    ctx.stroke();

    // y tick labels as 10^n
    ctx.fillStyle = '#000';
    ctx.textAlign = 'right';
    ctx.textBaseline = 'alphabetic';
    brDecades.forEach((v, i) => {
      const py = y.getPixelForValue(v);
      const right = a.left - 21;
      ctx.font = '33px "' + FONT + '"';
      const ew = ctx.measureText(brExponents[i]).width;
      ctx.fillText(brExponents[i], right, py + 1);
      ctx.font = '48px "' + FONT + '"';
      ctx.fillText('10', right - ew - 3, py + 18);
    });
    ctx.restore();
  },
  afterDraw(chart) {
    const { ctx } = chart;
    ctx.save();
    // legend box
    const bx = 1123, by = 71, bw = 710, bh = 252, r = 10;
    ctx.beginPath();
    ctx.moveTo(bx + r, by);
    ctx.arcTo(bx + bw, by, bx + bw, by + bh, r);
    ctx.arcTo(bx + bw, by + bh, bx, by + bh, r);
    ctx.arcTo(bx, by + bh, bx, by, r);
    ctx.arcTo(bx, by, bx + bw, by, r);
    ctx.closePath();
    ctx.fillStyle = 'rgba(255,255,255,0.8)';
    ctx.fill();
    ctx.strokeStyle = '#d6d6d6';
    ctx.lineWidth = 2.7;
    ctx.stroke();

    ctx.font = '54px "' + FONT + '"';
    ctx.textAlign = 'left';
    ctx.textBaseline = 'alphabetic';
    seriesLabels.forEach((lab, i) => {
      const cy = 113 + i * 79.5;
      ctx.fillStyle = seriesColors[i];
      ctx.beginPath();
      ctx.arc(1198, cy, 9, 0, Math.PI * 2);
      ctx.fill();
      ctx.fillStyle = '#000';
      ctx.fillText(lab, 1296, cy + 20);
    });
    ctx.restore();
  }
};

const series = [theoWoCorrection, pspObs, pspTheoReco];

new Chart(document.getElementById('brChart').getContext('2d'), {
  type: 'scatter',
  data: {
    datasets: series.map((s, i) => ({
      label: seriesLabels[i],
      data: toPoints(s),
      backgroundColor: seriesColors[i],
      borderWidth: 0,
      pointRadius: 9.5,
      pointHoverRadius: 9.5,
      order: 3 - i
    }))
  },
  options: {
    responsive: false,
    animation: false,
    events: [],
    devicePixelRatio: 1,
    layout: { padding: { top: 43, right: 0, bottom: 0, left: 0 } },
    plugins: { legend: { display: false }, tooltip: { enabled: false } },
    scales: {
      x: {
        type: 'linear',
        min: -3.25,
        max: 68.25,
        grid: { display: false, drawTicks: false },
        border: { display: false },
        afterBuildTicks: s => { s.ticks = dayTicks.map(v => ({ value: v })); },
        afterFit: s => { s.height = 148; },
        ticks: {
          autoSkip: false,
          maxRotation: 0,
          padding: 14,
          color: '#000',
          font: { family: FONT, size: 48 }
        },
        title: {
          display: true,
          text: 'time (days from 2021-4-4)',
          color: '#000',
          font: { family: FONT, size: 67, lineHeight: 0.95 },
          padding: { top: 0, bottom: 0 }
        }
      },
      y: {
        type: 'logarithmic',
        min: 0.01,
        max: 1000,
        grid: { display: false, drawTicks: false },
        border: { display: false },
        afterBuildTicks: s => { s.ticks = brDecades.map(v => ({ value: v })); },
        afterFit: s => { s.width = 258; },
        ticks: { display: false },
        title: {
          display: true,
          text: 'Br (nT)',
          color: '#000',
          font: { family: FONT, size: 68 },
          padding: { top: 36, bottom: 0 }
        }
      }
    }
  },
  plugins: [frame]
});
</script>
</body>
</html>
